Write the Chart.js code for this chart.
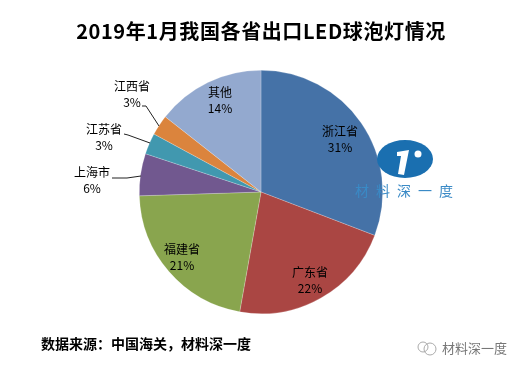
<!DOCTYPE html>
<html>
<head>
<meta charset="utf-8">
<style>html,body{margin:0;padding:0;background:#fff}canvas{display:block}</style>
<script src="https://cdn.jsdelivr.net/npm/chart.js@4"></script>
</head>
<body>
<div style="width:523px;height:369px"><canvas id="c" width="523" height="369"></canvas></div>
<script>
const categories = ['浙江省','广东省','福建省','上海市','江苏省','江西省','其他'];
const shares = [30.8, 22.0, 21.7, 5.6, 2.8, 2.7, 14.4];
const percentLabels = ['31%','22%','21%','6%','3%','3%','14%'];
const colors = ['#4572a7','#aa4643','#89a54e','#71588f','#4198af','#db843d','#93a9cf'];
const titleText = '2019年1月我国各省出口LED球泡灯情况';
const sourceText = '数据来源：中国海关，材料深一度';
const brandText = '材料深一度';

const FONT = '"Noto Sans CJK SC","Noto Sans",sans-serif';
const labelPos = [[340,131],[310,272],[182,249],[92,172],[104,129],[132,86],[220,92]];
const leaders = {3:[[112,178],[127,178],[141,176]],4:[[124,134],[128,135],[150,143]],5:[[142,106],[146,106],[159,126]]};

const overlay = {
  id:'overlay',
  afterDraw(chart){
    const g = chart.ctx;
    g.save();
    g.textAlign='center'; g.textBaseline='middle';
    g.fillStyle='#000';
    g.font='bold 20px '+FONT;
    g.letterSpacing='0.6px';
    g.fillText(titleText,261,31);
    g.letterSpacing='0px';
    g.strokeStyle='#222'; g.lineWidth=1;
    Object.values(leaders).forEach(p=>{
      g.beginPath(); p.forEach((q,i)=> i?g.lineTo(q[0],q[1]):g.moveTo(q[0],q[1])); g.stroke();
    });
    categories.forEach((name,i)=>{
      const [x,y]=labelPos[i];
      g.fillStyle='#000';
      g.font='12px '+FONT;
      g.fillText(name,x,y);
      g.fillText(percentLabels[i],x,y+16);
    });
    // logo
    g.fillStyle='#1a6fb0';
    g.beginPath(); g.ellipse(405,159,28,19,0,0,Math.PI*2); g.fill();
    g.fillStyle='#fff';
    g.beginPath();
    g.moveTo(397,152); g.lineTo(409,150); g.lineTo(404,175); g.lineTo(398,174); g.lineTo(401,156); g.lineTo(397,156);
    g.closePath(); g.fill();
    g.beginPath(); g.arc(418,154,3.5,0,Math.PI*2); g.fill();
    g.fillStyle='#3a8ac6';
    g.font='14px '+FONT;
    g.letterSpacing='7px';
    g.textAlign='left';
    g.fillText(brandText,355,191);
    g.letterSpacing='0px';
    // source
    g.fillStyle='#000';
    g.font='bold 14px '+FONT;
    g.fillText(sourceText,41,344);
    // wechat mark
    g.strokeStyle='#aaa';
    g.beginPath(); g.arc(423,347,5,0,Math.PI*2); g.stroke();
    g.beginPath(); g.arc(430,349,6,0,Math.PI*2); g.stroke();
    g.fillStyle='#777';
    g.font='13px '+FONT;
    g.fillText(brandText,442,348);
    g.restore();
  }
};

new Chart(document.getElementById('c'),{
  type:'pie',
  data:{labels:categories,datasets:[{data:shares,backgroundColor:colors,borderColor:'rgba(255,255,255,0.35)',borderWidth:0.6}]},
  options:{
    responsive:false,animation:false,
    layout:{padding:{left:139,right:140,top:70,bottom:55}},
    plugins:{legend:{display:false},tooltip:{enabled:false},title:{display:false}}
  },
  plugins:[overlay]
});
</script>
</body>
</html>
